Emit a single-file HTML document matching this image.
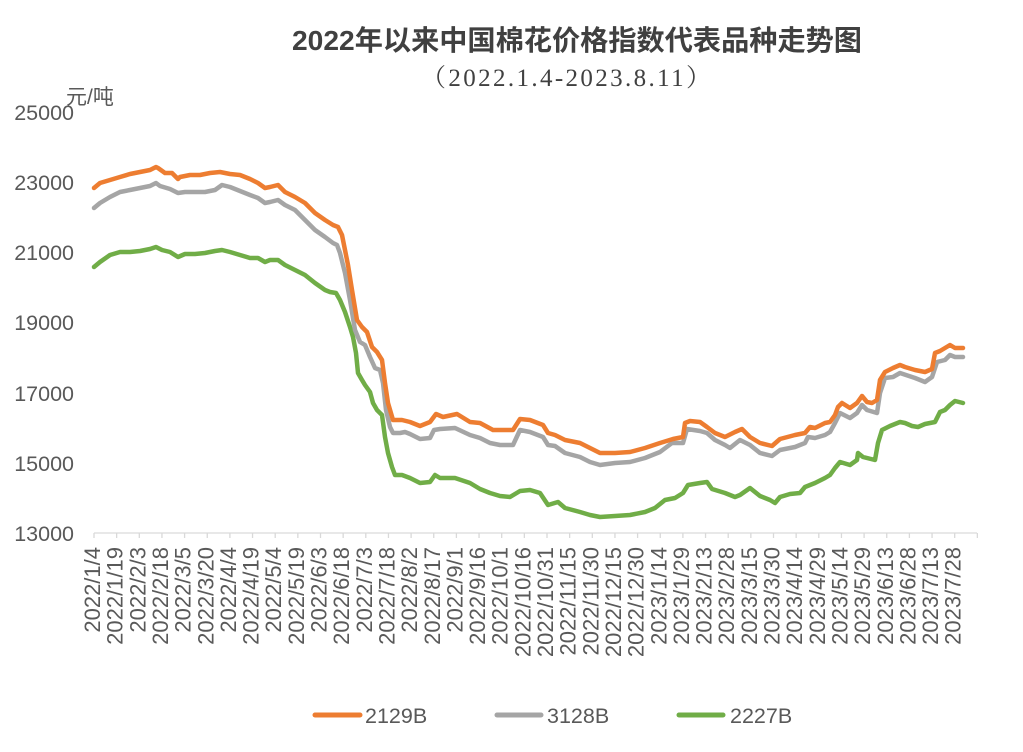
<!DOCTYPE html>
<html><head><meta charset="utf-8"><style>
html,body{margin:0;padding:0;background:#fff;}
svg{display:block;}
text{font-family:"Liberation Sans","Noto Sans CJK SC",sans-serif;fill:#595959;}
</style></head><body>
<svg width="1023" height="752" viewBox="0 0 1023 752" xmlns="http://www.w3.org/2000/svg">
<rect width="1023" height="752" fill="#fff"/>
<text x="577" y="50" text-anchor="middle" font-size="28" font-weight="bold" style="fill:#404040" textLength="570" lengthAdjust="spacingAndGlyphs">2022年以来中国棉花价格指数代表品种走势图</text>
<text x="566" y="86" text-anchor="middle" font-size="25" style="fill:#404040;font-family:'Liberation Serif','Noto Serif CJK SC',serif" textLength="290" lengthAdjust="spacing">（2022.1.4-2023.8.11）</text>
<text x="66" y="104" font-size="21">元/吨</text>
<g font-size="21.5" text-anchor="end">
<text x="74" y="120">25000</text>
<text x="74" y="190">23000</text>
<text x="74" y="260">21000</text>
<text x="74" y="330">19000</text>
<text x="74" y="401">17000</text>
<text x="74" y="471">15000</text>
<text x="74" y="541">13000</text>
</g>
<line x1="94" y1="533" x2="977" y2="533" stroke="#d9d9d9" stroke-width="1.3"/>
<path stroke="#d9d9d9" stroke-width="1.3" d="M94 533v5M116.65 533v5M139.3 533v5M161.95 533v5M184.6 533v5M207.25 533v5M229.9 533v5M252.55 533v5M275.2 533v5M297.85 533v5M320.5 533v5M343.15 533v5M365.8 533v5M388.45 533v5M411.1 533v5M433.75 533v5M456.4 533v5M479.05 533v5M501.7 533v5M524.35 533v5M547 533v5M569.65 533v5M592.3 533v5M614.95 533v5M637.6 533v5M660.25 533v5M682.9 533v5M705.55 533v5M728.2 533v5M750.85 533v5M773.5 533v5M796.15 533v5M818.8 533v5M841.45 533v5M864.1 533v5M886.75 533v5M909.4 533v5M932.05 533v5M954.7 533v5M977.35 533v5"/>
<g font-size="22" text-anchor="end">
<text transform="translate(100,547) rotate(-90)">2022/1/4</text>
<text transform="translate(122.65,547) rotate(-90)">2022/1/19</text>
<text transform="translate(145.3,547) rotate(-90)">2022/2/3</text>
<text transform="translate(167.95,547) rotate(-90)">2022/2/18</text>
<text transform="translate(190.6,547) rotate(-90)">2022/3/5</text>
<text transform="translate(213.25,547) rotate(-90)">2022/3/20</text>
<text transform="translate(235.9,547) rotate(-90)">2022/4/4</text>
<text transform="translate(258.55,547) rotate(-90)">2022/4/19</text>
<text transform="translate(281.2,547) rotate(-90)">2022/5/4</text>
<text transform="translate(303.85,547) rotate(-90)">2022/5/19</text>
<text transform="translate(326.5,547) rotate(-90)">2022/6/3</text>
<text transform="translate(349.15,547) rotate(-90)">2022/6/18</text>
<text transform="translate(371.8,547) rotate(-90)">2022/7/3</text>
<text transform="translate(394.45,547) rotate(-90)">2022/7/18</text>
<text transform="translate(417.1,547) rotate(-90)">2022/8/2</text>
<text transform="translate(439.75,547) rotate(-90)">2022/8/17</text>
<text transform="translate(462.4,547) rotate(-90)">2022/9/1</text>
<text transform="translate(485.05,547) rotate(-90)">2022/9/16</text>
<text transform="translate(507.7,547) rotate(-90)">2022/10/1</text>
<text transform="translate(530.35,547) rotate(-90)">2022/10/16</text>
<text transform="translate(553,547) rotate(-90)">2022/10/31</text>
<text transform="translate(575.65,547) rotate(-90)">2022/11/15</text>
<text transform="translate(598.3,547) rotate(-90)">2022/11/30</text>
<text transform="translate(620.95,547) rotate(-90)">2022/12/15</text>
<text transform="translate(643.6,547) rotate(-90)">2022/12/30</text>
<text transform="translate(666.25,547) rotate(-90)">2023/1/14</text>
<text transform="translate(688.9,547) rotate(-90)">2023/1/29</text>
<text transform="translate(711.55,547) rotate(-90)">2023/2/13</text>
<text transform="translate(734.2,547) rotate(-90)">2023/2/28</text>
<text transform="translate(756.85,547) rotate(-90)">2023/3/15</text>
<text transform="translate(779.5,547) rotate(-90)">2023/3/30</text>
<text transform="translate(802.15,547) rotate(-90)">2023/4/14</text>
<text transform="translate(824.8,547) rotate(-90)">2023/4/29</text>
<text transform="translate(847.45,547) rotate(-90)">2023/5/14</text>
<text transform="translate(870.1,547) rotate(-90)">2023/5/29</text>
<text transform="translate(892.75,547) rotate(-90)">2023/6/13</text>
<text transform="translate(915.4,547) rotate(-90)">2023/6/28</text>
<text transform="translate(938.05,547) rotate(-90)">2023/7/13</text>
<text transform="translate(960.7,547) rotate(-90)">2023/7/28</text>
</g>
<g fill="none" stroke-width="4.5" stroke-linejoin="round" stroke-linecap="round">
<polyline stroke="#70AD47" points="94,267 100,262 110,255 120,252 130,252 140,251 150,249 156,247 162,250 170,252 178,257 185,254 195,254 205,253 215,251 222,250 230,252 240,255 250,258 258,258 265,262 270,260 278,260 285,265 295,270 305,275 315,283 325,290 330,292 336,293 340,300 345,312 350,327 353,337 356,353 358,373 362,380 365,385 370,392 373,403 377,410 382,415 385,437 388,453 392,467 395,475 402,475 410,478 420,483 430,482 435,475 440,478 455,478 470,483 480,489 490,493 500,496 510,497 520,491 530,490 540,493 548,505 558,502 565,508 580,512 590,515 600,517 615,516 630,515 645,512 655,508 665,500 675,498 683,493 688,485 700,483 707,482 712,489 725,493 735,497 740,495 750,488 760,496 770,500 775,503 780,497 790,494 800,493 805,487 815,483 825,478 830,475 835,468 840,462 850,465 857,460 858,453 863,457 875,460 878,443 882,430 890,426 900,422 905,423 912,426 918,427 925,424 935,422 940,412 945,410 950,405 955,401 963,403"/>
<polyline stroke="#A5A5A5" points="94,208 100,203 110,197 120,192 130,190 140,188 150,186 156,183 160,186 170,189 178,193 185,192 195,192 205,192 215,190 222,185 230,187 240,191 250,195 258,198 265,203 270,202 278,200 285,205 295,210 305,220 315,230 325,237 333,243 337,245 340,253 345,273 350,300 355,330 360,342 365,345 370,357 375,368 380,370 383,383 386,410 390,427 393,433 400,433 405,432 410,434 420,439 430,438 434,430 440,429 455,428 470,435 480,438 490,443 500,445 513,445 520,430 530,432 543,437 548,445 555,446 565,453 580,457 590,462 600,465 615,463 630,462 645,458 660,452 672,443 683,443 687,429 700,431 707,433 715,440 725,445 730,448 740,440 750,445 760,453 772,456 780,450 795,447 805,443 808,437 815,438 825,435 830,432 835,423 840,413 850,418 857,413 862,405 867,410 877,413 880,393 885,378 893,377 900,373 915,378 925,382 932,377 937,362 945,360 950,355 955,357 963,357"/>
<polyline stroke="#ED7D31" points="94,188 100,183 110,180 120,177 130,174 140,172 150,170 156,167 158,168 165,173 172,173 178,179 180,177 190,175 200,175 210,173 220,172 230,174 240,175 250,179 258,183 265,188 270,187 278,185 285,192 295,197 305,203 315,213 325,220 333,225 338,227 342,235 345,250 348,265 352,290 357,320 362,327 367,332 372,347 377,352 382,360 385,383 388,403 393,420 402,420 410,422 420,426 430,422 436,414 443,417 457,414 470,422 480,423 493,430 513,430 520,419 530,420 543,425 548,433 555,435 565,440 580,443 590,448 600,453 615,453 630,452 645,448 660,443 673,439 683,437 685,423 690,421 700,422 707,427 715,433 725,437 735,432 742,429 750,437 760,443 772,446 780,439 795,435 805,433 810,427 815,428 825,423 830,422 835,415 838,407 842,403 850,408 857,403 862,396 867,402 872,403 877,400 880,380 885,372 893,368 900,365 905,367 915,370 925,372 932,369 935,353 940,351 945,348 950,345 955,348 963,348"/>
</g>
<g stroke-width="5" stroke-linecap="round">
<line x1="315" y1="715" x2="360" y2="715" stroke="#ED7D31"/>
<line x1="497" y1="715" x2="541" y2="715" stroke="#A5A5A5"/>
<line x1="679" y1="715" x2="723" y2="715" stroke="#70AD47"/>
</g>
<g font-size="21.5">
<text x="365" y="723">2129B</text>
<text x="547" y="723">3128B</text>
<text x="730" y="723">2227B</text>
</g>
</svg>
</body></html>
